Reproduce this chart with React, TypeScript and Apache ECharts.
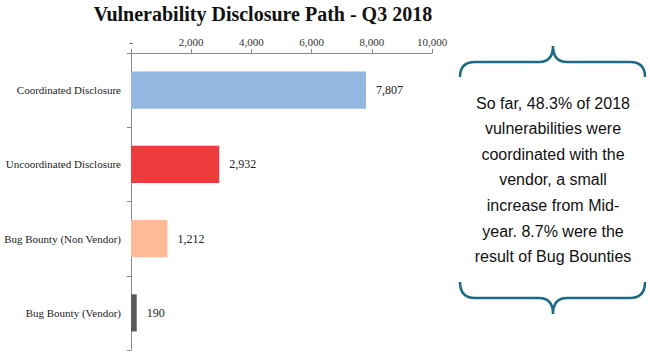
import React, { useEffect, useRef } from "react";
import * as echarts from "echarts";

const categories = [
  "Coordinated Disclosure",
  "Uncoordinated Disclosure",
  "Bug Bounty (Non Vendor)",
  "Bug Bounty (Vendor)",
];
const values = [7807, 2932, 1212, 190];
const barColors = ["#95B8E3", "#EF3B3C", "#FDBA95", "#595959"];
const axisMax = 10000;
const axisInterval = 2000;
const title = "Vulnerability Disclosure Path - Q3 2018";
const noteLines = [
  "So far, 48.3% of 2018",
  "vulnerabilities were",
  "coordinated with the",
  "vendor, a small",
  "increase from Mid-",
  "year. 8.7% were the",
  "result of Bug Bounties",
];

const SERIF = "'Liberation Serif', 'Times New Roman', serif";
const TEAL = "#1D6A86";

const topBrace =
  "M460,77 Q460,62 475,62 L539,62 Q553,62 553,46 Q553,62 567,62 L630,62 Q645,62 645,77";
const bottomBrace =
  "M460,282 Q460,298 475,298 L539,298 Q553,298 553,314 Q553,298 567,298 L630,298 Q645,298 645,282";

let registered = false;
function registerShapes() {
  if (registered) return;
  registered = true;
  echarts.graphic.registerShape("braceTop", echarts.graphic.extendPath(topBrace, {}) as any);
  echarts.graphic.registerShape("braceBottom", echarts.graphic.extendPath(bottomBrace, {}) as any);
}

export default function App() {
  const ref = useRef<HTMLDivElement>(null);
  useEffect(() => {
    document.body.style.margin = "0";
    registerShapes();
    const chart = echarts.init(ref.current!, null, { renderer: "svg" });
    const fmt = (v: number) => (v === 0 ? "-" : v.toLocaleString("en-US"));
    chart.setOption({
      animation: false,
      backgroundColor: "#ffffff",
      title: {
        text: title,
        left: 258,
        textAlign: "center",
        top: -1,
        textStyle: {
          fontFamily: SERIF,
          fontWeight: "bold",
          fontSize: 20,
          color: "#111",
        },
      },
      grid: {
        left: 131,
        top: 53,
        width: 301,
        height: 297,
        containLabel: false,
        outerBoundsMode: "none",
      },
      xAxis: {
        type: "value",
        position: "top",
        min: 0,
        max: axisMax,
        interval: axisInterval,
        axisLine: { show: true, lineStyle: { color: "#8a8a8a", width: 1 } },
        axisTick: { show: true, length: 4, lineStyle: { color: "#8a8a8a" } },
        splitLine: { show: false },
        axisLabel: {
          formatter: fmt,
          fontFamily: SERIF,
          fontSize: 11,
          color: "#333",
          margin: 6,
        },
      },
      yAxis: {
        type: "category",
        data: categories,
        inverse: true,
        axisLine: { show: true, lineStyle: { color: "#8a8a8a", width: 1 } },
        axisTick: { show: true, length: 4, lineStyle: { color: "#8a8a8a" } },
        axisLabel: {
          fontFamily: SERIF,
          fontSize: 11,
          color: "#222",
          margin: 10,
        },
      },
      series: [
        {
          type: "bar",
          data: values.map((v, i) => ({ value: v, itemStyle: { color: barColors[i] } })),
          barCategoryGap: "50%",
          label: {
            show: true,
            position: "right",
            distance: 10,
            formatter: (p: any) => fmt(p.value),
            fontFamily: SERIF,
            fontSize: 12,
            color: "#222",
          },
        },
      ],
      graphic: [
        {
          type: "braceTop",
          x: 0,
          y: 0,
          style: { fill: "none", stroke: TEAL, lineWidth: 2.5 },
        },
        {
          type: "braceBottom",
          x: 0,
          y: 0,
          style: { fill: "none", stroke: TEAL, lineWidth: 2.5 },
        },
        ...noteLines.map((line, i) => ({
          type: "text",
          x: 553,
          y: 103 + i * 25.6,
          style: {
            text: line,
            fontFamily: "'Liberation Sans', Arial, sans-serif",
            fontSize: 16,
            fill: "#111",
            textAlign: "center",
            textVerticalAlign: "middle",
          },
        })),
      ],
    });
    return () => chart.dispose();
  }, []);
  return <div ref={ref} style={{ width: 650, height: 356 }} />;
}
